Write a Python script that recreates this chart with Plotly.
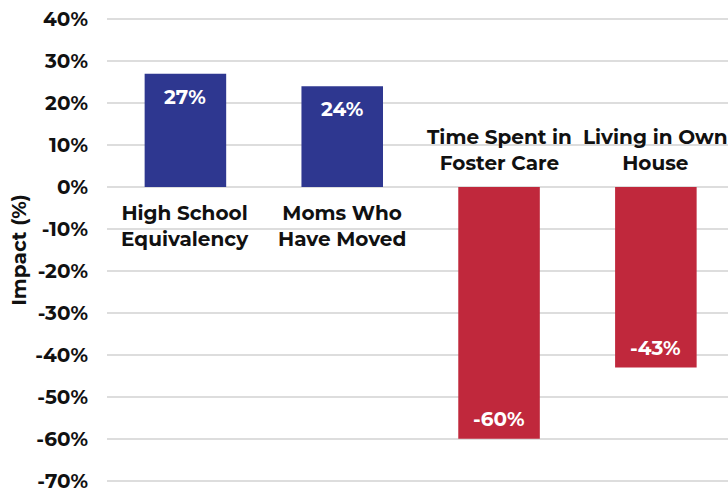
import plotly.graph_objects as go

categories = ["High School<br>Equivalency", "Moms Who<br>Have Moved",
              "Time Spent in<br>Foster Care", "Living in Own<br>House"]
values = [27, 24, -60, -43]
value_labels = ["27%", "24%", "-60%", "-43%"]
tick_vals = [40, 30, 20, 10, 0, -10, -20, -30, -40, -50, -60, -70]
tick_text = [f"{v}%" for v in tick_vals]

NAVY = "#2E3790"
RED = "#C0283C"
FONT = "Montserrat, 'Open Sans', sans-serif"
INK = "#111111"

colors = [NAVY if v >= 0 else RED for v in values]
xs = list(range(len(categories)))

fig = go.Figure()
fig.add_trace(go.Bar(
    x=xs, y=values,
    marker=dict(color=colors, line=dict(width=0)),
    hoverinfo="skip",
))

# value labels inside bar ends
for i, (t, v) in enumerate(zip(value_labels, values)):
    fig.add_annotation(
        x=i, y=v, text=t, showarrow=False, yanchor="middle",
        yshift=-23 if v >= 0 else 20,
        font=dict(size=20, color="white", family=FONT, weight="bold"),
    )

# category labels by the zero line
for i, (c, v) in enumerate(zip(categories, values)):
    fig.add_annotation(
        x=i, y=0, text=c, showarrow=False,
        yanchor="top" if v >= 0 else "bottom",
        yshift=-12 if v >= 0 else 10,
        font=dict(size=20, color=INK, family=FONT, weight="bold"),
        align="center",
    )

fig.update_layout(
    width=728, height=492,
    margin=dict(l=107, r=0, t=15, b=7),
    plot_bgcolor="white", paper_bgcolor="white",
    bargap=0.48, showlegend=False,
    xaxis=dict(range=[-0.5, 3.46], showticklabels=False, showgrid=False,
               zeroline=False, showline=False, fixedrange=True),
    yaxis=dict(range=[-71, 41], tickvals=tick_vals, ticktext=tick_text,
               showgrid=True, gridcolor="#DDDDDD", gridwidth=1.5,
               zeroline=False, showline=False, ticks="", ticklabelstandoff=18,
               ticklabeloverflow="allow", fixedrange=True,
               tickfont=dict(size=20, color=INK, family=FONT, weight="bold"),
               title=dict(text="Impact (%)", standoff=3,
                          font=dict(size=20, color=INK, family=FONT, weight="bold"))),
)

fig.write_html(
    "out.html",
    config={"displayModeBar": False, "staticPlot": True},
    post_script="document.body.style.margin='0';document.body.style.overflow='hidden';",
)
